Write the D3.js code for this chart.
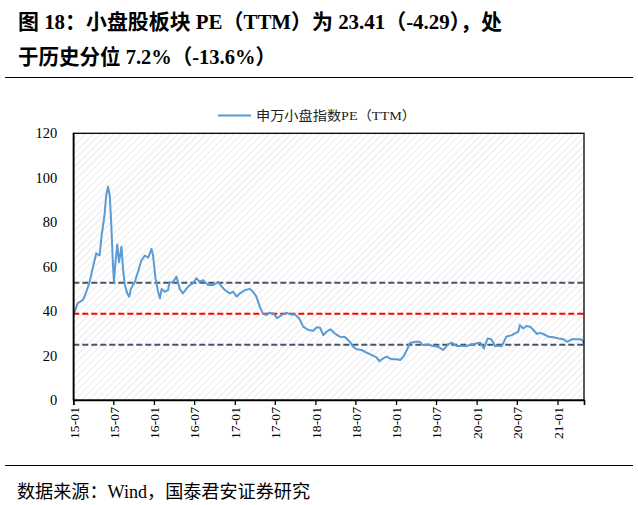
<!DOCTYPE html>
<html><head><meta charset="utf-8">
<script src="https://cdn.jsdelivr.net/npm/d3@7"></script>
<style>html,body{margin:0;padding:0;background:#fff;}svg{display:block;}</style>
</head><body>
<svg id="chart" width="638" height="505"></svg>
<script>
const titleLines = ["图 18：小盘股板块 PE（TTM）为 23.41（-4.29），处", "于历史分位 7.2%（-13.6%）"];
const seriesName = "申万小盘指数PE（TTM）";
const sourceText = "数据来源：Wind，国泰君安证券研究";
const dates = ["2015-01-05","2015-01-21","2015-02-14","2015-03-01","2015-03-16","2015-03-30","2015-04-15","2015-04-30","2015-05-08","2015-05-22","2015-05-30","2015-06-07","2015-06-15","2015-06-22","2015-06-29","2015-07-04","2015-07-10","2015-07-19","2015-07-27","2015-08-07","2015-08-14","2015-08-22","2015-09-02","2015-09-11","2015-09-19","2015-10-06","2015-10-21","2015-11-06","2015-11-21","2015-12-06","2015-12-21","2015-12-28","2016-01-08","2016-01-20","2016-01-28","2016-02-05","2016-02-19","2016-03-05","2016-03-12","2016-03-27","2016-04-12","2016-04-27","2016-05-11","2016-05-27","2016-06-11","2016-06-26","2016-07-11","2016-07-26","2016-08-11","2016-09-03","2016-09-25","2016-10-18","2016-11-03","2016-11-17","2016-12-10","2016-12-25","2017-01-10","2017-01-25","2017-02-17","2017-03-10","2017-03-24","2017-04-09","2017-04-24","2017-05-08","2017-05-24","2017-06-08","2017-06-16","2017-06-23","2017-07-01","2017-07-11","2017-08-01","2017-08-23","2017-09-08","2017-09-30","2017-10-19","2017-11-07","2017-11-30","2017-12-22","2018-01-07","2018-01-22","2018-02-06","2018-02-20","2018-03-10","2018-03-29","2018-04-21","2018-05-14","2018-06-06","2018-06-21","2018-07-06","2018-07-29","2018-08-21","2018-09-13","2018-10-05","2018-10-17","2018-11-05","2018-11-20","2018-12-12","2019-01-05","2019-01-20","2019-02-04","2019-02-19","2019-03-04","2019-03-27","2019-04-18","2019-05-03","2019-05-26","2019-06-18","2019-07-10","2019-08-02","2019-08-25","2019-09-10","2019-10-02","2019-10-25","2019-11-17","2019-12-09","2020-01-02","2020-01-17","2020-02-03","2020-02-20","2020-03-05","2020-03-19","2020-03-24","2020-04-08","2020-04-23","2020-04-30","2020-05-15","2020-06-08","2020-06-22","2020-07-07","2020-07-15","2020-07-30","2020-08-14","2020-08-30","2020-09-14","2020-09-30","2020-10-14","2020-10-29","2020-11-21","2020-12-14","2021-01-06","2021-01-29","2021-02-13","2021-03-06","2021-03-28","2021-04-13","2021-04-23","2021-04-30"];
const peValues = [39,43.6,45,48.7,53.2,59.4,66,65,73,83,92,96,92,79,62,53,61,70,62,69,59,52,48,46.5,50,53,57.7,63,65,64,68,65,54.8,48.7,45.8,50,48.7,49.5,53,53,55.5,50,48,50,51.7,52.5,54.8,53.2,53.9,51.7,51.7,53.2,51,49.5,48,48.7,46.5,48,49.5,50,48.7,46.5,42,39,38.2,39.3,39,39,38.2,36.8,38.2,39.3,38.5,38.5,36.8,33,31.5,31.2,32.7,32.5,29.2,30.7,31.8,30,28.5,28.3,26.2,24,22.8,22.5,21.3,20.2,19.2,17.5,18.8,19.5,18.3,18.3,18,19.5,22.5,25.5,26.2,26.2,24.7,25,24.3,24,22.5,25,25.8,24.3,24.3,24.3,25,25.5,25.8,23.2,27.7,27.5,25.5,24.3,24.3,24.3,25.5,28.5,29.2,30,30.7,33.7,32.2,33.3,33,31.5,29.7,30.2,29.7,28.5,28.2,27.7,27.3,26.2,27.3,27.3,27.3,27,25.5,23.41];
const refLines = [52.7, 38.8, 24.9];
const refColors = ["#44546A", "#FF0000", "#44546A"];
const yTicks = [0, 20, 40, 60, 80, 100, 120];
const xDomain = ["2015-01-01", "2021-05-01"];

const parse = d3.timeParse("%Y-%m-%d");
const data = dates.map((d, i) => ({date: parse(d), v: peValues[i]}));
const svg = d3.select("#chart");
const L = 73.3, R = 584, T = 133.3, B = 400;
const x = d3.scaleTime().domain(xDomain.map(parse)).range([L, R]);
const y = d3.scaleLinear().domain([0, 120]).range([B, T]);
const serif = "'Liberation Serif','Times New Roman','Noto Sans CJK SC',serif";

// title
svg.selectAll("text.title").data(titleLines).enter().append("text")
  .attr("x", 18).attr("y", (d, i) => 29 + i * 35)
  .attr("font-family", serif).attr("font-weight", "bold").attr("font-size", 21)
  .attr("textLength", (d, i) => i === 0 ? 484 : 258).attr("lengthAdjust", "spacingAndGlyphs")
  .attr("fill", "#000").text(d => d);
svg.append("line").attr("x1", 5).attr("x2", 633).attr("y1", 77.5).attr("y2", 77.5).attr("stroke", "#000").attr("stroke-width", 1);
svg.append("line").attr("x1", 5).attr("x2", 633).attr("y1", 465.5).attr("y2", 465.5).attr("stroke", "#000").attr("stroke-width", 1);

// hatch background
const defs = svg.append("defs");
const pat = defs.append("pattern").attr("id", "hatch").attr("patternUnits", "userSpaceOnUse")
  .attr("width", 5).attr("height", 5).attr("patternTransform", "rotate(45)");
pat.append("rect").attr("width", 5).attr("height", 5).attr("fill", "#fff");
pat.append("line").attr("x1", 0).attr("y1", 0).attr("x2", 0).attr("y2", 5).attr("stroke", "#e6e6e6").attr("stroke-width", 1.6);
svg.append("rect").attr("x", L).attr("y", T).attr("width", R - L).attr("height", B - T).attr("fill", "url(#hatch)");

// reference lines
svg.selectAll("line.ref").data(refLines).enter().append("line")
  .attr("x1", L).attr("x2", R).attr("y1", d => y(d)).attr("y2", d => y(d))
  .attr("stroke", (d, i) => refColors[i]).attr("stroke-width", 2).attr("stroke-dasharray", "6,3");

// series
svg.append("path").datum(data)
  .attr("d", d3.line().x(d => x(d.date)).y(d => y(d.v)))
  .attr("fill", "none").attr("stroke", "#5B9BD5").attr("stroke-width", 2).attr("stroke-linejoin", "round");

// frame
svg.append("rect").attr("x", L).attr("y", T).attr("width", R - L).attr("height", B - T)
  .attr("fill", "none").attr("stroke", "#000").attr("stroke-width", 1.3);

// y axis
const ya = svg.append("g").attr("transform", `translate(${L},0)`)
  .call(d3.axisLeft(y).tickValues(yTicks).tickSize(0).tickPadding(16));
ya.select(".domain").attr("stroke", "#000").attr("stroke-width", 1.6);
ya.selectAll("text").attr("font-family", serif).attr("font-size", 14.5).attr("fill", "#000");

// x axis
const xa = svg.append("g").attr("transform", `translate(0,${B})`)
  .call(d3.axisBottom(x).ticks(d3.timeMonth.every(6)).tickFormat(d3.timeFormat("%y-%m")).tickSize(5));
xa.select(".domain").attr("stroke", "#000").attr("stroke-width", 1.6);
xa.selectAll(".tick line").attr("stroke", "#000").attr("stroke-width", 1.3);
xa.selectAll("text").attr("font-family", serif).attr("font-size", 13.5).attr("fill", "#000")
  .attr("transform", "rotate(-90)").attr("text-anchor", "end")
  .attr("x", -7).attr("y", 0).attr("dy", "0.35em").attr("textLength", 32).attr("lengthAdjust", "spacingAndGlyphs");

// legend
svg.append("line").attr("x1", 218).attr("x2", 251).attr("y1", 115.5).attr("y2", 115.5)
  .attr("stroke", "#5B9BD5").attr("stroke-width", 2);
svg.append("text").attr("x", 256).attr("y", 120).attr("font-family", serif).attr("font-size", 13)
  .attr("textLength", 160).attr("lengthAdjust", "spacingAndGlyphs").attr("fill", "#222").text(seriesName);

// source
svg.append("text").attr("x", 17).attr("y", 498).attr("font-family", serif).attr("font-size", 18)
  .attr("textLength", 293).attr("lengthAdjust", "spacingAndGlyphs").attr("fill", "#000").text(sourceText);
</script>
</body></html>
